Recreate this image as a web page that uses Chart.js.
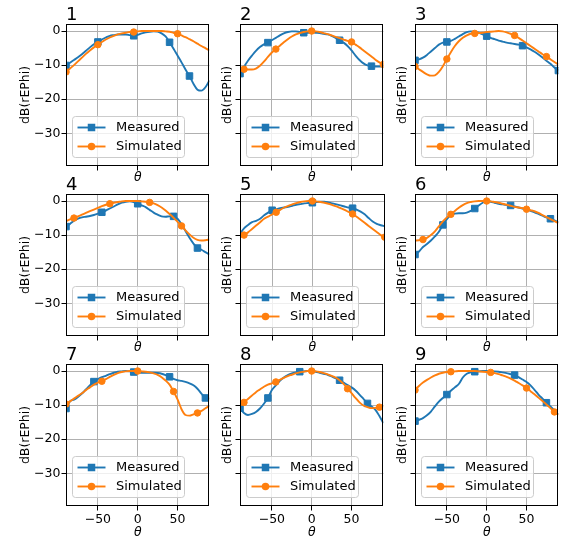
<!DOCTYPE html>
<html>
<head>
<meta charset="utf-8">
<script src="https://cdn.jsdelivr.net/npm/chart.js@4"></script>
<style>
  body { margin: 0; background: #fff; }
  #wrap { position: relative; width: 561px; height: 537px; overflow: hidden; background: #fff; }
  #wrap canvas { position: absolute; }
</style>
</head>
<body>
<div id="wrap"></div>
<script>
// angle grid (deg) shared by every cut
const theta = [-90, -85, -80, -75, -70, -65, -60, -55, -50, -45, -40, -35, -30, -25, -20, -15, -10, -5, 0,
  5, 10, 15, 20, 25, 30, 35, 40, 45, 50, 55, 60, 65, 70, 75, 80, 85, 90];
const thetaTicks = [-50, 0, 50];
const dbTicks = [-30, -20, -10, 0];
const panelTitles = ['1', '2', '3', '4', '5', '6', '7', '8', '9'];

// measured / simulated normalised patterns, dB
const meas1 = [-10.1, -9.3, -8.5, -7.7, -6.8, -5.8, -4.8, -3.9, -3.2, -2.5, -1.9, -1.4, -1.2, -1.0, -1.0, -1.0, -1.2, -1.4, -1.1,
  -0.7, -0.4, -0.2, -0.1, -0.2, -0.7, -1.6, -3.3, -5.2, -7.2, -9.2, -11.3, -13.2, -15.5, -17.2, -17.5, -16.5, -14.5];
const sim1 = [-12.0, -11.0, -10.0, -8.9, -7.8, -6.7, -5.7, -4.8, -4.0, -3.2, -2.5, -1.9, -1.4, -1.0, -0.7, -0.5, -0.3, -0.3, -0.1,
  0, 0, 0, 0, 0, 0, -0.1, -0.2, -0.5, -0.8, -1.3, -1.8, -2.4, -3.0, -3.7, -4.4, -5.0, -5.7];
const meas2 = [-12.5, -10.5, -8.7, -7.2, -5.8, -4.7, -3.9, -3.4, -2.7, -2.0, -1.3, -0.7, -0.3, -0.1, -0.1, -0.3, -0.5, -0.5, -0.4,
  -0.5, -0.6, -0.8, -1.0, -1.4, -2.0, -2.7, -3.4, -4.4, -5.7, -7.2, -8.5, -9.5, -10.1, -10.3, -10.4, -10.4, -10.3];
const sim2 = [-11.5, -11.2, -11.3, -11.3, -11.0, -10.2, -9.0, -7.6, -6.3, -5.3, -4.3, -3.3, -2.4, -1.6, -1.0, -0.6, -0.3, -0.1, 0,
  -0.1, -0.3, -0.6, -0.9, -1.3, -1.7, -2.1, -2.5, -2.9, -3.2, -4.0, -4.8, -5.7, -6.6, -7.5, -8.4, -9.2, -9.8];
const meas3 = [-8.6, -8.3, -7.8, -7.0, -6.0, -5.0, -4.0, -3.4, -3.2, -2.9, -2.3, -1.6, -0.9, -0.3, -0.1, -0.2, -0.5, -1.0, -1.5,
  -2.0, -2.4, -2.8, -3.1, -3.4, -3.6, -3.8, -4.0, -4.3, -4.8, -5.4, -6.1, -6.9, -7.8, -8.7, -9.6, -10.7, -11.6];
const sim3 = [-10.4, -11.2, -12.0, -12.7, -13.1, -13.0, -12.0, -10.3, -8.2, -6.2, -4.4, -3.0, -2.0, -1.3, -0.8, -0.7, -0.6, -0.5, -0.3,
  -0.2, -0.1, 0, -0.1, -0.4, -0.8, -1.3, -2.0, -2.8, -3.6, -4.4, -5.2, -6.0, -6.8, -7.5, -8.3, -9.1, -9.8];
const meas4 = [-7.5, -6.7, -5.8, -5.2, -4.8, -4.6, -4.4, -4.1, -3.7, -3.3, -2.8, -2.2, -1.6, -1.0, -0.5, -0.2, -0.1, -0.3, -0.8,
  -1.3, -1.8, -2.6, -3.4, -4.0, -4.5, -4.6, -4.5, -4.5, -5.2, -6.8, -8.8, -10.8, -12.5, -13.8, -14.3, -15.0, -15.7];
const sim4 = [-5.9, -5.4, -5.0, -4.5, -4.0, -3.5, -3.0, -2.5, -2.0, -1.5, -1.1, -0.8, -0.5, -0.3, -0.1, 0, 0, 0, 0,
  -0.1, -0.2, -0.4, -0.7, -1.2, -1.9, -2.8, -3.8, -4.9, -6.1, -7.3, -8.6, -9.8, -10.8, -11.4, -11.6, -11.5, -11.3];
const meas5 = [-9.6, -8.0, -7.0, -6.2, -5.8, -5.2, -4.2, -3.4, -2.7, -2.4, -2.1, -1.9, -1.7, -1.4, -1.1, -0.9, -0.7, -0.6, -0.5,
  -0.3, -0.2, -0.2, -0.4, -0.7, -1.0, -1.3, -1.6, -1.9, -2.1, -2.5, -3.1, -3.9, -5.0, -6.0, -6.7, -7.1, -7.4];
const sim5 = [-10.6, -10.0, -9.2, -8.2, -7.2, -6.2, -5.2, -4.6, -3.9, -3.3, -2.6, -1.9, -1.4, -1.0, -0.6, -0.3, -0.1, 0, 0,
  -0.1, -0.3, -0.5, -0.8, -1.2, -1.6, -2.1, -2.6, -3.2, -3.8, -4.6, -5.5, -6.4, -7.3, -8.2, -9.1, -10.0, -10.6];
const meas6 = [-15.7, -14.8, -13.5, -12.6, -11.6, -10.4, -9.0, -7.0, -5.3, -4.1, -3.7, -3.6, -3.6, -3.4, -2.9, -2.2, -1.3, -0.5, 0,
  -0.2, -0.5, -0.8, -1.0, -1.2, -1.3, -1.6, -1.9, -2.2, -2.5, -2.9, -3.3, -3.8, -4.3, -4.8, -5.2, -5.7, -6.2];
const sim6 = [-11.6, -11.5, -11.3, -10.8, -10.0, -8.9, -7.4, -6.0, -4.8, -3.9, -2.9, -2.0, -1.2, -0.6, -0.3, -0.1, 0, 0, 0,
  -0.1, -0.3, -0.5, -0.8, -1.1, -1.4, -1.7, -1.9, -2.1, -2.4, -2.7, -3.0, -3.5, -4.1, -4.7, -5.3, -5.9, -6.5];
const meas7 = [-11.0, -8.9, -8.4, -7.6, -6.6, -5.4, -4.2, -3.1, -2.4, -1.8, -1.4, -0.9, -0.5, -0.2, -0.1, 0, -0.1, -0.3, -0.4,
  -0.5, -0.5, -0.5, -0.5, -0.6, -0.8, -1.2, -1.7, -2.3, -2.7, -2.9, -3.2, -3.6, -4.2, -5.2, -6.6, -7.9, -8.1];
const sim7 = [-9.7, -8.9, -8.1, -7.3, -6.5, -5.6, -4.8, -4.0, -3.4, -3.0, -2.4, -1.7, -1.1, -0.6, -0.3, -0.1, 0, 0, 0,
  -0.1, -0.2, -0.4, -0.7, -1.1, -1.8, -2.8, -4.0, -6.0, -8.3, -11.2, -12.9, -13.1, -12.7, -12.3, -11.7, -10.9, -10.2];
const meas8 = [-10.9, -12.3, -12.9, -12.6, -12.0, -11.0, -9.6, -7.9, -5.6, -4.2, -2.9, -1.9, -1.2, -0.7, -0.4, -0.2, -0.1, 0, 0,
  -0.2, -0.5, -0.8, -1.1, -1.6, -2.1, -2.7, -3.4, -4.1, -4.8, -5.7, -6.9, -8.2, -9.5, -10.4, -11.4, -13.2, -15.3];
const sim8 = [-10.2, -9.2, -8.2, -7.2, -6.2, -5.4, -4.6, -4.0, -3.6, -3.2, -2.6, -2.0, -1.5, -1.1, -0.7, -0.4, -0.2, 0, 0,
  -0.1, -0.3, -0.6, -1.0, -1.4, -1.9, -2.7, -3.8, -5.2, -6.5, -7.9, -9.2, -10.1, -10.6, -10.9, -10.8, -10.6, -10.3];
const meas9 = [-14.7, -14.3, -13.8, -13.0, -11.9, -10.4, -9.0, -7.9, -6.9, -5.8, -4.8, -3.8, -1.9, -0.8, -0.4, -0.2, -0.1, 0, 0,
  -0.1, -0.1, -0.2, -0.4, -0.6, -0.9, -1.2, -1.8, -2.5, -3.2, -4.2, -5.5, -6.9, -8.1, -9.3, -10.4, -11.6, -12.7];
const sim9 = [-5.6, -4.4, -3.4, -2.6, -1.9, -1.3, -0.8, -0.5, -0.3, -0.2, -0.1, 0, 0, 0, 0, 0, -0.1, -0.2, -0.3,
  -0.4, -0.6, -0.9, -1.3, -1.7, -2.2, -2.8, -3.5, -4.2, -5.0, -5.9, -6.8, -7.8, -8.8, -9.8, -10.9, -12.0, -12.9];

// angles carrying a marker
const measMarks = [[-90, -50, -5, 40, 65], [-90, -55, -10, 35, 75], [-90, -50, 0, 45, 90],
  [-90, -45, 0, 45, 75], [-50, 0, 50], [-90, -55, -15, 30, 80],
  [-90, -55, -5, 40, 85], [-90, -55, -15, 35, 70], [-90, -50, -15, 35, 75]];
const simMarks = [[-90, -50, -5, 50], [-85, -45, 0, 50, 90], [-90, -50, -15, 35, 75],
  [-80, -35, 15, 55], [-85, -45, 0, 50, 90], [-80, -45, 0, 50],
  [-90, -45, 0, 45, 75], [-85, -45, 0, 45, 85], [-90, -45, 5, 50, 85]];

const measured = [meas1, meas2, meas3, meas4, meas5, meas6, meas7, meas8, meas9];
const simulated = [sim1, sim2, sim3, sim4, sim5, sim6, sim7, sim8, sim9];

Chart.defaults.font.family = "'DejaVu Sans'";
Chart.defaults.color = '#000';

const BLUE = '#1f77b4';
const ORANGE = '#ff7f0e';

// grid placement of the plot areas
const plotLeft = [66, 240, 415];
const plotTop = [24, 194, 364];
const plotW = 145, plotH = 142;
const padL = 66, padT = 24, padR = 4, axisH = 40;

const fmtTick = (v) => (v < 0 ? '\u2212' + Math.abs(v) : String(v));

// spines, boxed legend inside the axes and the panel number
const panelDecor = {
  id: 'panelDecor',
  afterDatasetsDraw(chart, args, opts) {
    const {ctx, chartArea: a} = chart;
    ctx.save();
    ctx.strokeStyle = '#000';
    ctx.lineWidth = 1;
    ctx.strokeRect(Math.round(a.left) + 0.5, Math.round(a.top) + 0.5,
      Math.round(a.right - a.left) - 1, Math.round(a.bottom - a.top) - 1);

    const bx = Math.round(a.left) + 6.5, by = Math.round(a.bottom) - 49.5;
    ctx.beginPath();
    ctx.roundRect(bx, by, 112, 41, 3);
    ctx.fillStyle = 'rgba(255,255,255,0.8)';
    ctx.fill();
    ctx.strokeStyle = '#cccccc';
    ctx.stroke();

    ctx.font = "13px 'DejaVu Sans'";
    ctx.textBaseline = 'middle';
    chart.data.datasets.forEach((ds, k) => {
      const y = by + 11 + k * 19;
      ctx.strokeStyle = ds.borderColor;
      ctx.lineWidth = 1.9;
      ctx.beginPath();
      ctx.moveTo(bx + 5, y);
      ctx.lineTo(bx + 33, y);
      ctx.stroke();
      ctx.fillStyle = ds.borderColor;
      if (ds.pointStyle === 'rect') {
        ctx.fillRect(bx + 19 - 3.75, y - 3.75, 7.5, 7.5);
      } else {
        ctx.beginPath();
        ctx.arc(bx + 19, y, 3.75, 0, Math.PI * 2);
        ctx.fill();
      }
      ctx.fillStyle = '#000';
      ctx.fillText(ds.label, bx + 43.5, y + 0.5);
    });
    ctx.restore();
  },
  afterDraw(chart, args, opts) {
    const {ctx, chartArea: a} = chart;
    ctx.save();
    ctx.font = "18px 'DejaVu Sans'";
    ctx.fillStyle = '#000';
    ctx.textBaseline = 'alphabetic';
    ctx.fillText(opts.title, a.left, a.top - 4);
    ctx.restore();
  }
};

function series(label, values, marks, color, style, radius, order) {
  return {
    label: label,
    data: theta.map((t, k) => ({x: t, y: values[k]})),
    borderColor: color,
    backgroundColor: color,
    borderWidth: 1.9,
    cubicInterpolationMode: 'monotone',
    pointStyle: style,
    pointRadius: (ctx) => (marks.includes(theta[ctx.dataIndex]) ? radius : 0),
    pointHoverRadius: 0,
    pointBorderWidth: 1,
    pointBackgroundColor: color,
    pointBorderColor: color,
    clip: 0,
    order: order
  };
}

const wrap = document.getElementById('wrap');

panelTitles.forEach((title, i) => {
  const row = Math.floor(i / 3), col = i % 3;
  const cv = document.createElement('canvas');
  cv.width = padL + plotW + padR;
  cv.height = padT + plotH + axisH;
  cv.style.left = (plotLeft[col] - padL) + 'px';
  cv.style.top = (plotTop[row] - padT) + 'px';
  wrap.appendChild(cv);

  new Chart(cv, {
    type: 'line',
    data: {
      datasets: [
        series('Measured', measured[i], measMarks[i], BLUE, 'rect', 4.6, 2),
        series('Simulated', simulated[i], simMarks[i], ORANGE, 'circle', 3.25, 1)
      ]
    },
    options: {
      responsive: false,
      animation: false,
      events: [],
      layout: {padding: {top: padT, right: padR, bottom: 0, left: 0}},
      plugins: {
        legend: {display: false},
        tooltip: {enabled: false},
        panelDecor: {title: title}
      },
      scales: {
        x: {
          type: 'linear',
          min: -90,
          max: 90,
          afterBuildTicks: (s) => { s.ticks = thetaTicks.map((v) => ({value: v})); },
          afterFit: (s) => { s.height = axisH; },
          border: {display: false},
          grid: {color: '#b0b0b0', lineWidth: 1, tickColor: '#000', tickLength: 4.5, tickWidth: 1},
          ticks: {display: row === 2, font: {size: 12.5}, padding: 2, maxRotation: 0, callback: fmtTick},
          title: {display: true, text: 'θ', font: {size: 12.5, style: 'italic'},
            padding: {top: 0, bottom: row === 2 ? 6 : 21}}
        },
        y: {
          min: -39.6,
          max: 2.06,
          afterBuildTicks: (s) => { s.ticks = dbTicks.map((v) => ({value: v})); },
          afterFit: (s) => { s.width = padL; },
          border: {display: false},
          grid: {color: '#b0b0b0', lineWidth: 1, tickColor: '#000', tickLength: 4.5, tickWidth: 1},
          ticks: {display: col === 0, font: {size: 12.5}, padding: 1, callback: fmtTick},
          title: {display: true, text: 'dB(rEPhi)', font: {size: 12.5},
            padding: {top: col === 0 ? 18.5 : 46, bottom: 0}}
        }
      }
    },
    plugins: [panelDecor]
  });
});
</script>
</body>
</html>
